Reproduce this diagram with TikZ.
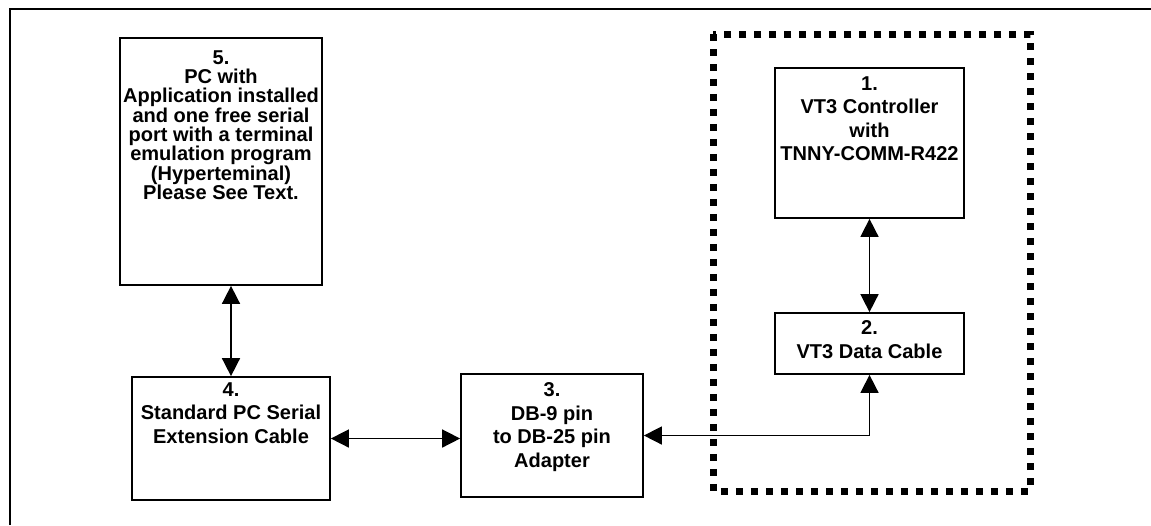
\documentclass[tikz,border=0pt]{standalone}
\usepackage{fontspec}
\setmainfont{Liberation Sans}
\usetikzlibrary{arrows.meta, positioning}

\begin{document}
\begin{tikzpicture}[x=0.02cm, y=-0.02cm,
  block/.style={draw, line width=1pt, inner sep=0pt},
  blocktext/.style={inner sep=0pt, align=center,
    font=\bfseries\fontsize{11.4}{13.4}\selectfont},
  link/.style={line width=0.9pt,
    {Triangle[length=0.36cm, width=0.36cm]}-{Triangle[length=0.36cm, width=0.36cm]}}]
  \useasboundingbox (0,0) rectangle (1151,525);
  % frame
  \draw[line width=1.7pt] (10,525) -- (10,9) -- (1151,9);
  % boxes
  \node[block, minimum width=4.04cm, minimum height=4.94cm] (pc) at (221,161.5) {};
  \node[block, minimum width=3.96cm, minimum height=2.46cm] (ext) at (231,438.5) {};
  \node[block, minimum width=3.64cm, minimum height=2.46cm] (adapt) at (552,435.5) {};
  \node[block, minimum width=3.78cm, minimum height=3.0cm] (ctrl) at (869.5,143) {};
  \node[block, minimum width=3.78cm, minimum height=1.22cm] (cable) at (869.5,343.5) {};
  \node[blocktext, font=\bfseries\fontsize{11.4}{11}\selectfont, below=0.26cm of pc.north] (pctext)
    {5.\\PC with\\Application installed\\and one free serial\\port with a terminal\\emulation program\\(Hyperteminal)\\Please See Text.};
  \node[blocktext, below=0.12cm of ext.north] (exttext) {4.\\Standard PC Serial\\Extension Cable};
  \node[blocktext, below=0.18cm of adapt.north] (adapttext) {3.\\DB-9 pin\\to DB-25 pin\\Adapter};
  \node[blocktext, below=0.18cm of ctrl.north] (ctrltext) {1.\\VT3 Controller\\with\\TNNY-COMM-R422};
  \node[blocktext, below=0.16cm of cable.north] (cabletext) {2.\\VT3 Data Cable};
  % controller group
  \draw[line width=0.14cm, dash pattern=on 0.14cm off 0.16cm] (713,34) rectangle (1030,491);
  % connections
  \draw[link] (ext.north) -- (ext.north |- pc.south);
  \draw[link] (ext.east) -- (ext.east -| adapt.west);
  \draw[link] (adapt.east) -| (cable.south);
  \draw[link] (ctrl.south) -- (cable.north);
\end{tikzpicture}
\end{document}
